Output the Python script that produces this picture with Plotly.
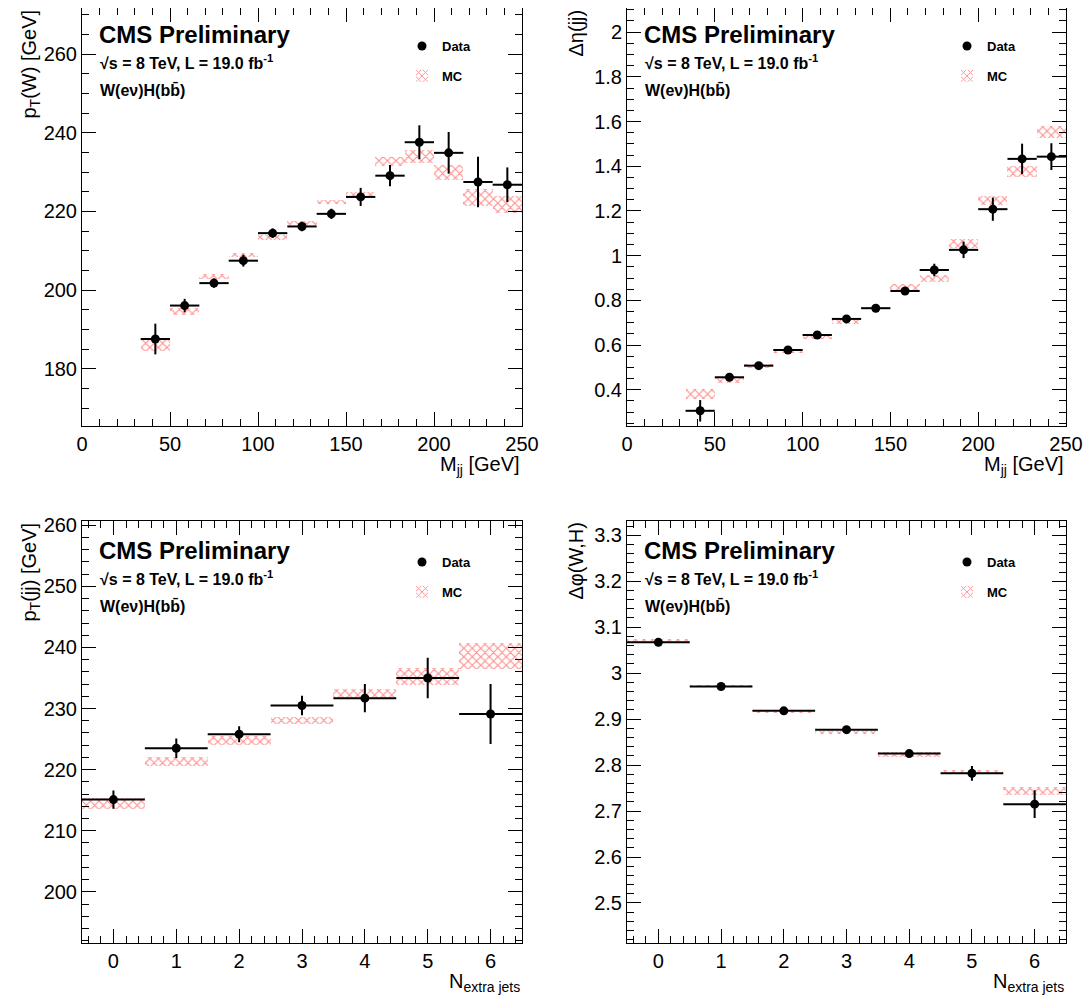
import plotly.graph_objects as go

# ---------------- data ----------------
# Top panels: M_jj bins (15 bins of width 250/15 from 0 to 250; first two empty)
mjj_centers = [41.67, 58.33, 75.0, 91.67, 108.33, 125.0, 141.67, 158.33, 175.0, 191.67, 208.33, 225.0, 241.67]
mjj_binwidth = 250.0 / 15

ptw_data = [187.6, 196.1, 201.8, 207.5, 214.5, 216.2, 219.4, 223.7, 229.1, 237.6, 234.9, 227.5, 226.8]
ptw_err = [3.9, 1.7, 1.2, 1.5, 1.2, 1.2, 1.3, 2.3, 2.7, 4.3, 5.3, 6.4, 4.4]
ptw_mc = [186.2, 194.6, 203.4, 208.9, 213.4, 217.1, 222.5, 224.2, 232.7, 234.0, 229.9, 223.5, 221.8]
ptw_mc_err = [1.6, 0.8, 0.6, 0.5, 0.65, 0.55, 0.5, 0.85, 1.15, 1.7, 2.0, 2.2, 2.2]

deta_data = [0.306, 0.456, 0.508, 0.578, 0.645, 0.717, 0.765, 0.842, 0.936, 1.026, 1.208, 1.433, 1.443]
deta_err = [0.048, 0.010, 0.008, 0.009, 0.010, 0.011, 0.012, 0.016, 0.028, 0.037, 0.052, 0.068, 0.060]
deta_mc = [0.380, 0.441, 0.505, 0.572, 0.636, 0.703, 0.766, 0.858, 0.899, 1.055, 1.247, 1.378, 1.554]
deta_mc_err = [0.022, 0.010, 0.009, 0.009, 0.010, 0.009, 0.006, 0.014, 0.015, 0.020, 0.020, 0.025, 0.026]

# Bottom panels: number of extra jets
njet = [0, 1, 2, 3, 4, 5, 6]
njet_binwidth = 1.0

ptjj_data = [215.1, 223.5, 225.8, 230.5, 231.7, 235.0, 229.1]
ptjj_err = [1.5, 1.6, 1.3, 1.6, 2.3, 3.3, 4.9]
ptjj_mc = [214.5, 221.3, 224.8, 228.0, 232.45, 235.2, 238.65]
ptjj_mc_err = [0.9, 0.7, 0.7, 0.6, 0.75, 1.4, 2.15]

dphi_data = [3.067, 2.971, 2.918, 2.877, 2.825, 2.782, 2.715]
dphi_err = [0.003, 0.003, 0.004, 0.005, 0.006, 0.016, 0.030]
dphi_mc = [3.071, 2.972, 2.917, 2.871, 2.823, 2.785, 2.743]
dphi_mc_err = [0.003, 0.002, 0.003, 0.004, 0.0045, 0.0045, 0.009]

# ---------------- figure ----------------
OFF = 8                      # page body margin
W, H = 1092 - OFF, 998 - OFF  # figure size so it fits the window
FONT = "Liberation Sans, Arial, Helvetica, sans-serif"
MC_COLOR = "rgb(255,30,30)"


def px(xp):
    return min(max((xp - OFF) / W, 0.0), 1.0)


def py(yp):
    return min(max(1 - (yp - OFF) / H, 0.0), 1.0)


panels = [
    dict(x=mjj_centers, bw=mjj_binwidth, d=ptw_data, de=ptw_err, m=ptw_mc, me=ptw_mc_err,
         xr=[0, 250], yr=[165.5, 271.7], xdt=50, xmdt=10, x0=0, ydt=20, ymdt=5,
         xpx=(82, 522), ypx=(426, 8), ytxt=5,
         ytitle="p<sub>T</sub>(W) [GeV]", xtitle="M<sub>jj</sub> [GeV]"),
    dict(x=mjj_centers, bw=mjj_binwidth, d=deta_data, de=deta_err, m=deta_mc, me=deta_mc_err,
         xr=[0, 250], yr=[0.238, 2.108], xdt=50, xmdt=10, x0=0, ydt=0.2, ymdt=0.05,
         xpx=(627, 1066), ypx=(426, 8), ytxt=5,
         ytitle="Δη(jj)", xtitle="M<sub>jj</sub> [GeV]"),
    dict(x=njet, bw=njet_binwidth, d=ptjj_data, de=ptjj_err, m=ptjj_mc, me=ptjj_mc_err,
         xr=[-0.5, 6.5], yr=[191.7, 260.7], xdt=1, xmdt=0.2, x0=0, ydt=10, ymdt=2,
         xpx=(82, 522), ypx=(942.5, 521), ytxt=521,
         ytitle="p<sub>T</sub>(jj) [GeV]", xtitle="N<sub>extra jets</sub>"),
    dict(x=njet, bw=njet_binwidth, d=dphi_data, de=dphi_err, m=dphi_mc, me=dphi_mc_err,
         xr=[-0.5, 6.5], yr=[2.414, 3.331], xdt=1, xmdt=0.2, x0=0, ydt=0.1, ymdt=0.02,
         xpx=(627, 1066), ypx=(942.5, 521), ytxt=521,
         ytitle="Δφ(W,H)", xtitle="N<sub>extra jets</sub>"),
]

fig = go.Figure()
annotations = []
layout = {}

for i, p in enumerate(panels):
    n = i + 1
    xa = "x" if n == 1 else f"x{n}"
    ya = "y" if n == 1 else f"y{n}"
    xkey = "xaxis" if n == 1 else f"xaxis{n}"
    ykey = "yaxis" if n == 1 else f"yaxis{n}"
    lg = "legend" if n == 1 else f"legend{n}"

    lo = [m - e for m, e in zip(p["m"], p["me"])]
    hgt = [2 * e for e in p["me"]]

    fig.add_trace(go.Bar(
        x=p["x"], y=hgt, base=lo, width=p["bw"], name="MC",
        marker=dict(color="rgba(0,0,0,0)", line=dict(width=0),
                    pattern=dict(shape="x", fgcolor=MC_COLOR, bgcolor="rgba(0,0,0,0)",
                                 size=6, solidity=0.35, fillmode="overlay")),
        xaxis=xa, yaxis=ya, legend=lg, legendgroup=f"mc{n}", legendrank=2,
        showlegend=True, hoverinfo="skip"))

    fig.add_trace(go.Scatter(
        x=p["x"], y=p["d"], mode="markers", name="Data",
        marker=dict(color="black", size=9, symbol="circle"),
        error_x=dict(type="constant", value=p["bw"] / 2, color="black", thickness=2, width=0),
        error_y=dict(type="data", array=p["de"], color="black", thickness=2, width=0),
        xaxis=xa, yaxis=ya, legend=lg, legendgroup=f"data{n}", legendrank=1,
        showlegend=True))

    xdom = [px(p["xpx"][0]), px(p["xpx"][1])]
    ydom = [py(p["ypx"][0]), py(p["ypx"][1])]

    common = dict(showline=True, linecolor="black", linewidth=1, mirror="ticks",
                  ticks="inside", ticklen=14, tickcolor="black", tickwidth=1,
                  showgrid=False, zeroline=False, automargin=False,
                  tickfont=dict(family=FONT, size=20, color="black"))
    layout[xkey] = dict(common, domain=xdom, range=p["xr"], anchor=ya,
                        tickmode="linear", tick0=p["x0"], dtick=p["xdt"],
                        minor=dict(ticks="inside", ticklen=7, tickcolor="black",
                                   dtick=p["xmdt"], tick0=p["x0"], showgrid=False))
    layout[ykey] = dict(common, domain=ydom, range=p["yr"], anchor=xa,
                        tickmode="linear", dtick=p["ydt"], tick0=0,
                        minor=dict(ticks="inside", ticklen=7, tickcolor="black",
                                   dtick=p["ymdt"], tick0=0, showgrid=False))

    xl, xr_ = p["xpx"]
    yb = p["ypx"][0]
    yt = p["ytxt"]

    # y-axis title (top aligned, rotated)
    annotations.append(dict(text=p["ytitle"], xref="paper", yref="paper",
                            x=px(xl - 52), y=py(max(yt, OFF)), xanchor="center", yanchor="top",
                            textangle=-90, showarrow=False,
                            font=dict(family=FONT, size=20, color="black")))
    # x-axis title (right aligned)
    annotations.append(dict(text=p["xtitle"], xref="paper", yref="paper",
                            x=px(xr_), y=py(yb + 25), xanchor="right", yanchor="top",
                            showarrow=False, font=dict(family=FONT, size=20, color="black")))
    # labels
    annotations.append(dict(text="<b>CMS Preliminary</b>", xref="paper", yref="paper",
                            x=px(xl + 15), y=py(yt + 14), xanchor="left", yanchor="top",
                            showarrow=False, font=dict(family=FONT, size=24, color="black")))
    annotations.append(dict(text="<b>√s = 8 TeV, L = 19.0 fb<sup>-1</sup></b>", xref="paper", yref="paper",
                            x=px(xl + 16), y=py(yt + 45), xanchor="left", yanchor="top",
                            showarrow=False, font=dict(family=FONT, size=16, color="black")))
    annotations.append(dict(text="<b>W(eν)H(bb\u0304)</b>", xref="paper", yref="paper",
                            x=px(xl + 16), y=py(yt + 74), xanchor="left", yanchor="top",
                            showarrow=False, font=dict(family=FONT, size=16, color="black")))

    layout[lg] = dict(x=px(xl + 320), y=py(yt + 26), xanchor="left", yanchor="top",
                      bgcolor="rgba(0,0,0,0)", borderwidth=0,
                      traceorder="grouped", tracegroupgap=10, itemwidth=30,
                      font=dict(family=FONT, size=13, color="black", weight="bold"))

fig.update_layout(
    width=W, height=H, margin=dict(l=0, r=0, t=0, b=0),
    paper_bgcolor="white", plot_bgcolor="white",
    annotations=annotations, barmode="overlay", bargap=0,
    **layout,
)

fig.write_html("out.html")
